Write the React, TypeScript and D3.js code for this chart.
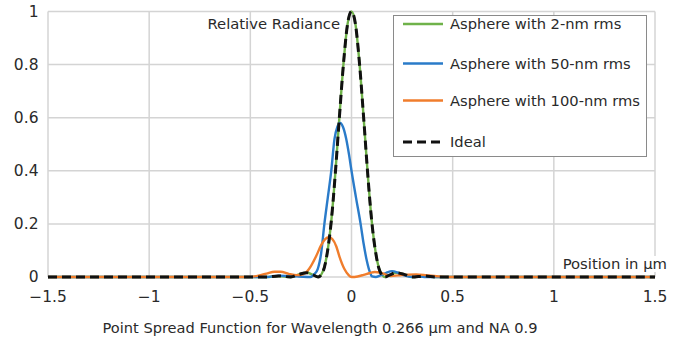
import React from "react";
import * as d3 from "d3";

const xTicks = [-1.5, -1, -0.5, 0, 0.5, 1, 1.5];
const xTickLabels = ["\u22121.5", "\u22121", "\u22120.5", "0", "0.5", "1", "1.5"];
const yTicks = [0, 0.2, 0.4, 0.6, 0.8, 1];
const yTickLabels = ["0", "0.2", "0.4", "0.6", "0.8", "1"];

const seriesNames = ["Asphere with 2-nm rms", "Asphere with 50-nm rms", "Asphere with 100-nm rms", "Ideal"];

const greenX = [-1.5, -0.42, -0.36, -0.3, -0.26, -0.22, -0.19, -0.165, -0.14, -0.12, -0.1, -0.08, -0.06, -0.04, -0.02, 0, 0.02, 0.04, 0.06, 0.08, 0.1, 0.12, 0.14, 0.165, 0.19, 0.22, 0.26, 0.3, 0.36, 0.42, 1.5];
const greenY = [0, 0, 0.004, 0, 0.01, 0.016, 0.008, 0, 0.024, 0.09, 0.21, 0.39, 0.6, 0.8, 0.95, 1, 0.95, 0.8, 0.6, 0.39, 0.21, 0.09, 0.024, 0, 0.008, 0.016, 0.01, 0, 0.004, 0, 0];

const blueX = [-1.5, -0.42, -0.36, -0.3, -0.26, -0.204, -0.185, -0.167, -0.15, -0.134, -0.117, -0.1, -0.084, -0.07, -0.056, -0.042, -0.026, -0.012, 0, 0.022, 0.045, 0.06, 0.076, 0.09, 0.102, 0.12, 0.14, 0.17, 0.2, 0.23, 0.26, 0.29, 0.32, 0.36, 1.5];
const blueY = [0, 0, 0.005, 0.003, 0.002, 0, 0.01, 0.03, 0.09, 0.2, 0.3, 0.4, 0.52, 0.565, 0.58, 0.565, 0.52, 0.46, 0.4, 0.3, 0.2, 0.125, 0.06, 0.02, 0.002, 0, 0.005, 0.015, 0.022, 0.016, 0.006, 0.001, 0.003, 0, 0];

const orangeX = [-1.5, -0.52, -0.46, -0.42, -0.38, -0.35, -0.31, -0.27, -0.24, -0.21, -0.175, -0.15, -0.13, -0.112, -0.095, -0.075, -0.06, -0.035, -0.015, 0, 0.03, 0.06, 0.09, 0.115, 0.14, 0.17, 0.195, 0.23, 0.28, 0.32, 0.37, 0.42, 0.48, 1.5];
const orangeY = [0, 0, 0.005, 0.013, 0.02, 0.02, 0.012, 0.007, 0.01, 0.03, 0.078, 0.12, 0.143, 0.15, 0.143, 0.115, 0.078, 0.03, 0.008, 0, 0.002, 0.008, 0.015, 0.019, 0.017, 0.009, 0.004, 0.006, 0.009, 0.01, 0.007, 0.003, 0, 0];

const idealX = [-1.5, -0.42, -0.36, -0.3, -0.26, -0.22, -0.19, -0.165, -0.14, -0.12, -0.1, -0.08, -0.06, -0.04, -0.02, 0, 0.02, 0.04, 0.06, 0.08, 0.1, 0.12, 0.14, 0.165, 0.19, 0.22, 0.26, 0.3, 0.36, 0.42, 1.5];
const idealY = [0, 0, 0.004, 0, 0.01, 0.016, 0.008, 0, 0.022, 0.09, 0.21, 0.39, 0.6, 0.8, 0.95, 1, 0.95, 0.8, 0.6, 0.39, 0.21, 0.09, 0.022, 0, 0.008, 0.016, 0.01, 0, 0.004, 0, 0];

const W = 674;
const H = 344;
const FONT = "'DejaVu Sans', sans-serif";

export default function App() {
  const x = d3.scaleLinear().domain([-1.5, 1.5]).range([48, 655]);
  const y = d3.scaleLinear().domain([0, 1]).range([277, 11.5]);
  const line = d3
    .line<[number, number]>()
    .x((d) => x(d[0]))
    .y((d) => y(d[1]))
    .curve(d3.curveMonotoneX);
  const mk = (xs: number[], ys: number[]) => line(xs.map((v, i) => [v, ys[i]] as [number, number])) || "";

  const series = [
    { name: seriesNames[0], d: mk(greenX, greenY), color: "#6fb24a", dash: undefined, w: 2.4 },
    { name: seriesNames[1], d: mk(blueX, blueY), color: "#2a7bc9", dash: undefined, w: 2.4 },
    { name: seriesNames[2], d: mk(orangeX, orangeY), color: "#f07d2c", dash: undefined, w: 2.4 },
    { name: seriesNames[3], d: mk(idealX, idealY), color: "#111111", dash: "9,5", w: 3 },
  ];
  const legendY = [24, 63.5, 100.5, 142];
  const gridColor = "#d4d4d4";
  const txt = "#2a2a2a";

  return (
    <svg width={W} height={H} style={{ position: "absolute", left: 0, top: 0, background: "#fff" }} fontFamily={FONT}>
      <rect x={0} y={0} width={W} height={H} fill="#fff" />
      {yTicks.map((t) => (
        <line key={"gy" + t} x1={x(-1.5)} x2={x(1.5)} y1={y(t)} y2={y(t)} stroke={gridColor} strokeWidth={1.5} />
      ))}
      {xTicks.map((t) => (
        <line key={"gx" + t} x1={x(t)} x2={x(t)} y1={y(1)} y2={y(0)} stroke={gridColor} strokeWidth={1.5} />
      ))}
      {yTicks.map((t, i) => (
        <text key={"ty" + t} x={38.5} y={y(t)} dy="0.35em" textAnchor="end" fontSize={15.5} fill={txt}>
          {yTickLabels[i]}
        </text>
      ))}
      {xTicks.map((t, i) => (
        <text key={"tx" + t} x={x(t)} y={297} dy="0.35em" textAnchor="middle" fontSize={15.5} fill={txt}>
          {xTickLabels[i]}
        </text>
      ))}
      <text x={340} y={24} dy="0.35em" textAnchor="end" fontSize={14.8} fill={txt}>
        Relative Radiance
      </text>
      {series.map((s) => (
        <path key={s.name} d={s.d} fill="none" stroke={s.color} strokeWidth={s.w} strokeDasharray={s.dash} strokeLinejoin="round" />
      ))}
      <rect x={560} y={256} width={110} height={16} fill="#fff" />
      <text x={667} y={264} dy="0.35em" textAnchor="end" fontSize={14.8} fill={txt}>
        Position in µm
      </text>
      <rect x={393.5} y={15.5} width={253} height={141} fill="#fff" stroke="#8a8a8a" strokeWidth={1} />
      {series.map((s, i) => (
        <g key={"lg" + s.name}>
          <line x1={403} x2={443} y1={legendY[i]} y2={legendY[i]} stroke={s.color} strokeWidth={s.w} strokeDasharray={s.dash} />
          <text x={450} y={legendY[i]} dy="0.35em" fontSize={14.7} fill={txt}>
            {s.name}
          </text>
        </g>
      ))}
      <text x={320} y={328} dy="0.35em" textAnchor="middle" fontSize={14.6} fill={txt}>
        Point Spread Function for Wavelength 0.266 µm and NA 0.9
      </text>
    </svg>
  );
}
